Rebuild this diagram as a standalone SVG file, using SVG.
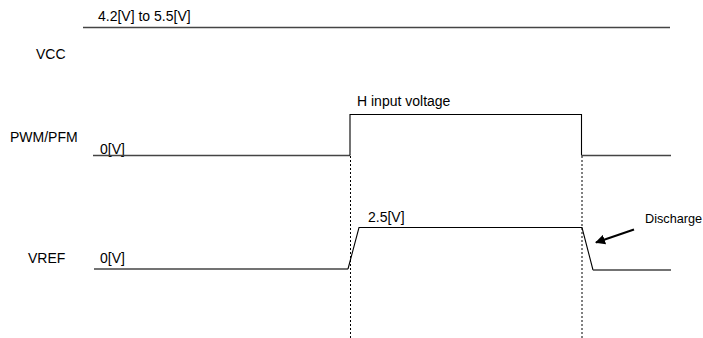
<svg xmlns="http://www.w3.org/2000/svg" width="703" height="338" viewBox="0 0 703 338">
<style>
text{font-family:"Liberation Sans",Arial,sans-serif;font-size:14px;fill:#000}
.small{font-size:12.7px}
.lvl{stroke:#444;stroke-width:1.3;fill:none}
.edge{stroke:#000;stroke-width:1.1;fill:none}
.dash{stroke:#000;stroke-width:1;stroke-dasharray:2,2;fill:none}
</style>
<defs>
<marker id="ah" viewBox="0 0 10 10" refX="9" refY="5" markerWidth="5" markerHeight="5" orient="auto"><path d="M0,0 L10,5 L0,10 z" fill="#000"/></marker>
</defs>
<rect width="703" height="338" fill="#fff"/>
<g id="vcc">
<text x="36" y="59">VCC</text>
<text x="98" y="21">4.2[V] to 5.5[V]</text>
<line class="lvl" x1="83" y1="27.5" x2="670" y2="27.5"/>
</g>
<g id="pwm">
<text x="10" y="142">PWM/PFM</text>
<text x="100" y="154">0[V]</text>
<text x="357" y="106">H input voltage</text>
<path class="lvl" d="M93,155.5 H350"/>
<path class="edge" d="M350,155.5 V114.5 H581.5 V155.5"/>
<path class="lvl" d="M581.5,155.5 H671"/>
</g>
<g id="vref">
<text x="28" y="263">VREF</text>
<text x="100" y="263">0[V]</text>
<text x="368" y="222">2.5[V]</text>
<path class="lvl" d="M94,269 H348"/>
<path class="edge" d="M348,269 L359,227.5 H582 L593,270"/>
<path class="lvl" d="M593,270 H671"/>
</g>
<g id="connectors">
<line class="dash" x1="350.5" y1="156" x2="350.5" y2="338"/>
<line class="dash" x1="582" y1="156" x2="582" y2="338"/>
<line x1="634" y1="229.5" x2="596" y2="242.5" stroke="#000" stroke-width="2" marker-end="url(#ah)"/>
</g>
<g id="discharge">
<text class="small" x="645" y="223">Discharge</text>
</g>
</svg>
